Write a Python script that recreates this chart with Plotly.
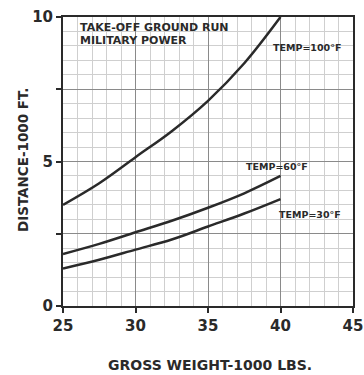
import plotly.graph_objects as go

weights = [25, 27.5, 30, 32.5, 35, 37.5, 40]
dist_100F = [3.5, 4.25, 5.15, 6.05, 7.1, 8.4, 10.0]
dist_60F = [1.8, 2.15, 2.55, 2.95, 3.4, 3.9, 4.5]
dist_30F = [1.3, 1.6, 1.95, 2.3, 2.75, 3.2, 3.7]

x_ticks = [25, 30, 35, 40, 45]
y_ticks = [0, 2.5, 5, 7.5, 10]
y_ticklabels = ["0", "", "5", "", "10"]

FONT = "DejaVu Sans"
INK = "#2a2a2a"

fig = go.Figure()
for ys in (dist_100F, dist_60F, dist_30F):
    fig.add_trace(go.Scatter(x=weights, y=ys, mode="lines",
                             line=dict(color=INK, width=2.5, shape="spline"),
                             showlegend=False, hoverinfo="skip"))

def ann(text, x, y, size, xref="x", yref="y", xanchor="left", textangle=0):
    fig.add_annotation(text=text, x=x, y=y, xref=xref, yref=yref,
                       xanchor=xanchor, yanchor="middle", showarrow=False,
                       textangle=textangle,
                       font=dict(family=FONT, size=size, color=INK, weight="bold"))

ann("TAKE-OFF GROUND RUN", 26.0, 9.65, 11)
ann("MILITARY POWER", 26.0, 9.19, 11)
ann("TEMP=100°F", 39.35, 8.96, 9.5)
ann("TEMP=60°F", 37.5, 4.81, 9.5)
ann("TEMP=30°F", 39.75, 3.18, 9.5)
ann("DISTANCE-1000 FT.", -0.138, 0.505, 13.5, xref="paper", yref="paper",
    xanchor="center", textangle=-90)
ann("GROSS WEIGHT-1000 LBS.", 0.507, -0.2042, 14, xref="paper", yref="paper",
    xanchor="center")

axis_common = dict(showline=True, linecolor=INK, linewidth=2, mirror=True,
                   ticks="outside", ticklen=5, tickwidth=1.5, tickcolor=INK,
                   showgrid=True, gridcolor="#8a8a8a", gridwidth=1,
                   zeroline=False, automargin=False,
                   tickfont=dict(family=FONT, size=15, color=INK, weight="bold"))

fig.update_xaxes(range=[25, 45], tickvals=x_ticks,
                 minor=dict(dtick=1, tick0=25, showgrid=True, gridcolor="#cfcfcf",
                            gridwidth=1, ticks=""),
                 **axis_common)
fig.update_yaxes(range=[0, 10], tickvals=y_ticks, ticktext=y_ticklabels,
                 minor=dict(dtick=0.5, tick0=0, showgrid=True, gridcolor="#cfcfcf",
                            gridwidth=1, ticks=""),
                 **axis_common)

fig.update_layout(width=364, height=375,
                  margin=dict(l=63, r=11, t=17, b=69),
                  paper_bgcolor="white", plot_bgcolor="white",
                  showlegend=False)

fig.write_html("out.html", config={"displayModeBar": False},
               post_script="document.body.style.margin='0';document.body.style.overflow='hidden';")
